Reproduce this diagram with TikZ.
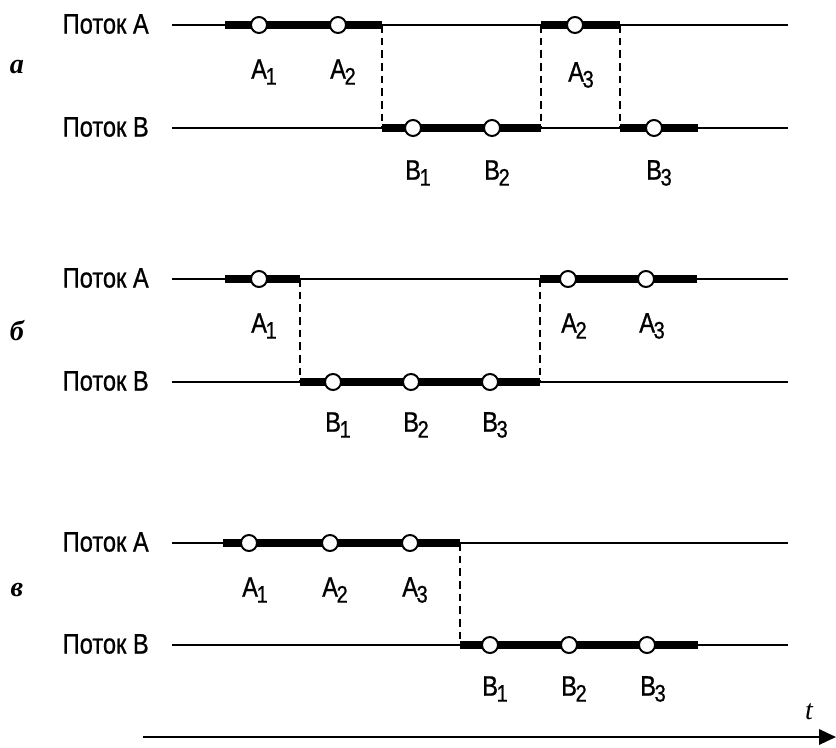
\documentclass[tikz,border=0pt]{standalone}
\usepackage{fontspec}
\setmainfont{Liberation Sans}[FakeStretch=0.84, FakeBold=0.8]
\newfontfamily\panelfont{Liberation Serif}
\usepackage{tikz}
\usetikzlibrary{arrows.meta}
\newcommand{\lowidx}[1]{\kern-0.05em\raisebox{-0.4ex}{\fontsize{17}{17}\selectfont #1}}

\tikzset{
  stream/.style={line width=1.5pt},
  busy/.style={line width=5pt, line cap=butt},
  switch/.style={line width=1.3pt, dash pattern=on 5.5pt off 3.5pt},
  event/.style={circle, draw, fill=white, line width=1.4pt, inner sep=0pt, minimum size=0.4cm},
  flowlabel/.style={anchor=east, inner sep=0pt, font=\fontsize{20}{22}\selectfont},
  idx/.style={inner sep=0pt, font=\fontsize{20}{22}\selectfont},
  panel/.style={inner sep=0pt, font=\panelfont\bfseries\itshape\fontsize{20}{22}\selectfont}
}

\begin{document}
\begin{tikzpicture}[x=0.025cm, y=-0.025cm]
  \useasboundingbox (0,0) rectangle (836,748);

  % Panel a
  \node[panel] (pa) at (17,67) {а};
  \node[flowlabel] (aLA) at (149,24) {Поток A};
  \node[flowlabel] (aLB) at (149,127) {Поток B};
  \coordinate (aA0) at (172,25);  \coordinate (aA9) at (788,25);
  \coordinate (aB0) at (172,128); \coordinate (aB9) at (788,128);
  \draw[stream] (aA0) -- (aA9);
  \draw[stream] (aB0) -- (aB9);
  \draw[busy] (225,25) -- (382,25);
  \draw[busy] (382,128) -- (541,128);
  \draw[busy] (541,25) -- (620,25);
  \draw[busy] (620,128) -- (698,128);
  \draw[switch] (382,25) -- (382,128);
  \draw[switch] (541,25) -- (541,128);
  \draw[switch] (620,25) -- (620,128);
  \foreach \n/\x in {1/259,2/338,3/575} {
    \node[event] (aA\n) at (\x,25) {};
  }
  \foreach \n/\x in {1/413,2/492,3/654} {
    \node[event] (aB\n) at (\x,128) {};
  }
  \node[idx] (aA1l) at (264,72) {A\lowidx{1}};
  \node[idx] (aA2l) at (343,72) {A\lowidx{2}};
  \node[idx] (aA3l) at (581,75) {A\lowidx{3}};
  \node[idx] (aB1l) at (418,173) {B\lowidx{1}};
  \node[idx] (aB2l) at (497,173) {B\lowidx{2}};
  \node[idx] (aB3l) at (659,173) {B\lowidx{3}};

  % Panel b
  \node[panel] (pb) at (17,331) {б};
  \node[flowlabel] (bLA) at (149,278) {Поток A};
  \node[flowlabel] (bLB) at (149,381) {Поток B};
  \coordinate (bA0) at (172,279); \coordinate (bA9) at (788,279);
  \coordinate (bB0) at (172,382); \coordinate (bB9) at (788,382);
  \draw[stream] (bA0) -- (bA9);
  \draw[stream] (bB0) -- (bB9);
  \draw[busy] (225,279) -- (300,279);
  \draw[busy] (300,382) -- (540,382);
  \draw[busy] (540,279) -- (697,279);
  \draw[switch] (300,279) -- (300,382);
  \draw[switch] (540,279) -- (540,382);
  \foreach \n/\x in {1/259,2/568,3/646} {
    \node[event] (bA\n) at (\x,279) {};
  }
  \foreach \n/\x in {1/333,2/411,3/490} {
    \node[event] (bB\n) at (\x,382) {};
  }
  \node[idx] (bA1l) at (264,326) {A\lowidx{1}};
  \node[idx] (bA2l) at (574,326) {A\lowidx{2}};
  \node[idx] (bA3l) at (652,326) {A\lowidx{3}};
  \node[idx] (bB1l) at (338,425) {B\lowidx{1}};
  \node[idx] (bB2l) at (416,425) {B\lowidx{2}};
  \node[idx] (bB3l) at (495,425) {B\lowidx{3}};

  % Panel c
  \node[panel] (pc) at (17,590) {в};
  \node[flowlabel] (cLA) at (149,542) {Поток A};
  \node[flowlabel] (cLB) at (149,644) {Поток B};
  \coordinate (cA0) at (172,543); \coordinate (cA9) at (788,543);
  \coordinate (cB0) at (172,645); \coordinate (cB9) at (788,645);
  \draw[stream] (cA0) -- (cA9);
  \draw[stream] (cB0) -- (cB9);
  \draw[busy] (223,543) -- (460,543);
  \draw[busy] (460,645) -- (698,645);
  \draw[switch] (460,543) -- (460,645);
  \foreach \n/\x in {1/249,2/330,3/410} {
    \node[event] (cA\n) at (\x,543) {};
  }
  \foreach \n/\x in {1/490,2/569,3/647} {
    \node[event] (cB\n) at (\x,645) {};
  }
  \node[idx] (cA1l) at (255,590) {A\lowidx{1}};
  \node[idx] (cA2l) at (335,590) {A\lowidx{2}};
  \node[idx] (cA3l) at (415,590) {A\lowidx{3}};
  \node[idx] (cB1l) at (495,689) {B\lowidx{1}};
  \node[idx] (cB2l) at (574,689) {B\lowidx{2}};
  \node[idx] (cB3l) at (653,689) {B\lowidx{3}};

  % Time axis
  \coordinate (t0) at (143,737);
  \coordinate (t1) at (836,737);
  \draw[stream, -{Triangle[length=0.42cm, width=0.38cm]}] (t0) -- (t1);
  \node[panel, font=\panelfont\itshape\fontsize{20}{22}\selectfont] (tl) at (809,712) {t};
\end{tikzpicture}
\end{document}
